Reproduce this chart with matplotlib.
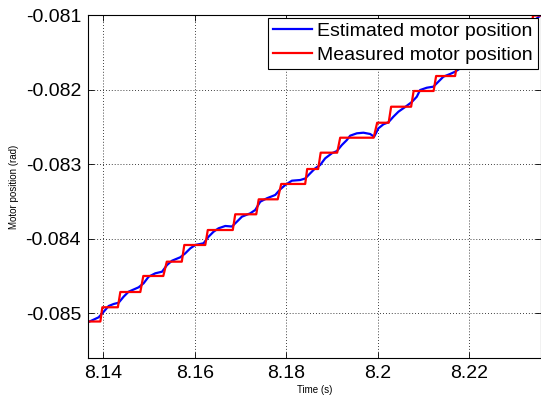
import matplotlib
matplotlib.use('Agg')
import matplotlib.pyplot as plt

plt.rcParams['font.family'] = ['Liberation Sans', 'DejaVu Sans']
plt.rcParams['axes.unicode_minus'] = False

# measured (encoder) position: one flat segment per encoder level
meas_start = [8.13672, 8.13978, 8.14371, 8.14873, 8.15386, 8.15769, 8.16282, 8.16882,
              8.17395, 8.17886, 8.18454, 8.18749, 8.19175, 8.19983, 8.20288, 8.20780,
              8.21271, 8.21740, 8.22232, 8.22734, 8.23389]
meas_end = [8.13935, 8.14317, 8.14808, 8.15310, 8.15714, 8.16227, 8.16828, 8.17341,
            8.17810, 8.18410, 8.18694, 8.19109, 8.19906, 8.20234, 8.20725, 8.21216,
            8.21686, 8.22166, 8.22668, 8.23345, 8.23563]
meas_level = [-0.085114, -0.084923, -0.084718, -0.084503, -0.084311, -0.084087, -0.083886,
              -0.083675, -0.083474, -0.083268, -0.083067, -0.082848, -0.082647, -0.082446,
              -0.082231, -0.082020, -0.081819, -0.081617, -0.081416, -0.081215, -0.081007]

# estimated position
est_t = [8.13672, 8.13738, 8.13897, 8.14007, 8.14116, 8.14225, 8.14334, 8.14443, 8.14552,
         8.14771, 8.14880, 8.14989, 8.15135, 8.15282, 8.15391, 8.15500, 8.15681, 8.15790,
         8.15900, 8.16009, 8.16190, 8.16299, 8.16408, 8.16517, 8.16664, 8.16810, 8.16919,
         8.17028, 8.17210, 8.17319, 8.17428, 8.17574, 8.17755, 8.17865, 8.17974, 8.18120,
         8.18301, 8.18410, 8.18520, 8.18629, 8.18738, 8.18847, 8.18993, 8.19103, 8.19212,
         8.19321, 8.19393, 8.19539, 8.19683, 8.19830, 8.19917, 8.20011, 8.20120, 8.20229,
         8.20338, 8.20448, 8.20594, 8.20740, 8.20849, 8.20921, 8.21068, 8.21212, 8.21321,
         8.21430, 8.21576, 8.21686, 8.22013, 8.22450, 8.22886, 8.23323, 8.23563]
est_pos = [-0.085121, -0.085103, -0.085058, -0.084983, -0.084906, -0.084879, -0.084862,
           -0.084781, -0.084714, -0.084655, -0.084601, -0.084513, -0.084467, -0.084446,
           -0.084356, -0.084298, -0.084252, -0.084199, -0.084132, -0.084087, -0.084064,
           -0.083976, -0.083909, -0.083863, -0.083832, -0.083839, -0.083774, -0.083707,
           -0.083662, -0.083617, -0.083506, -0.083460, -0.083416, -0.083340, -0.083282,
           -0.083224, -0.083215, -0.083195, -0.083125, -0.083058, -0.083013, -0.082924,
           -0.082856, -0.082826, -0.082745, -0.082678, -0.082620, -0.082588, -0.082580,
           -0.082597, -0.082634, -0.082521, -0.082467, -0.082440, -0.082365, -0.082298,
           -0.082235, -0.082168, -0.082097, -0.082007, -0.081976, -0.081962, -0.081895,
           -0.081828, -0.081792, -0.081761, -0.081631, -0.081443, -0.081268, -0.081121,
           -0.081000]

xticks = [8.14, 8.16, 8.18, 8.20, 8.22]
xtick_labels = ['8.14', '8.16', '8.18', '8.2', '8.22']
yticks = [-0.085, -0.084, -0.083, -0.082, -0.081]
ytick_labels = ['-0.085', '-0.084', '-0.083', '-0.082', '-0.081']

meas_t = []
meas_pos = []
for s, e, lv in zip(meas_start, meas_end, meas_level):
    meas_t += [s, e]
    meas_pos += [lv, lv]

fig = plt.figure(figsize=(5.41, 3.98), dpi=100)
ax = fig.add_axes([0.1627, 0.1005, 0.8373, 0.8618])

ax.plot(est_t, est_pos, color='#0000ff', lw=1.6, label='Estimated motor position')
ax.plot(meas_t, meas_pos, color='#ff0000', lw=1.6, label='Measured motor position')

ax.set_xlim(8.13665, 8.23563)
ax.set_ylim(-0.085604, -0.081)
ax.set_xticks(xticks)
ax.set_xticklabels(xtick_labels)
ax.set_yticks(yticks)
ax.set_yticklabels(ytick_labels)
ax.tick_params(direction='in', length=4, width=0.6, labelsize=14,
               top=True, right=True, pad=5)
ax.grid(True, color='black', linestyle=(0, (1, 2.5)), linewidth=0.6)
for sp in ax.spines.values():
    sp.set_linewidth(0.8)

ax.set_xlabel('Time (s)', fontsize=7, labelpad=2)
ax.set_ylabel('Motor position (rad)', fontsize=7, labelpad=5)

leg = ax.legend(loc='upper right', bbox_to_anchor=(0.993, 0.992), borderaxespad=0,
                fontsize=14, fancybox=False, framealpha=1, edgecolor='black',
                handlelength=2.0, handletextpad=0.3, borderpad=0.25, labelspacing=0.3)
leg.get_frame().set_linewidth(0.8)

fig.savefig('out.png', dpi=100)
